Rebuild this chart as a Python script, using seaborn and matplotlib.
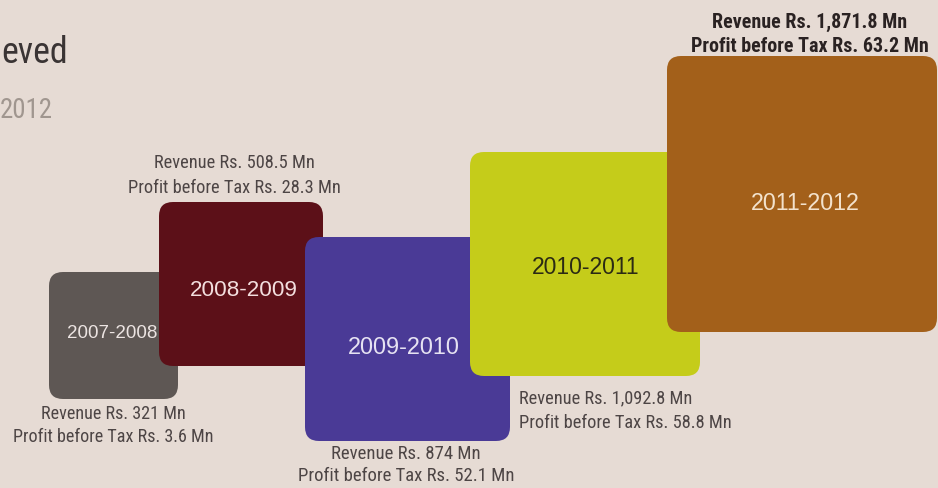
import matplotlib
matplotlib.use("Agg")
import matplotlib.pyplot as plt
from matplotlib import font_manager
from matplotlib.patches import FancyBboxPatch
import pandas as pd
import seaborn as sns

# Financial years and results (Rs. Mn)
periods = ["2007-2008", "2008-2009", "2009-2010", "2010-2011", "2011-2012"]
revenue_mn = [321, 508.5, 874, 1092.8, 1871.8]
pbt_mn = [3.6, 28.3, 52.1, 58.8, 63.2]

# Tile layout in canvas pixels (origin top-left)
box_left = [49, 159, 305, 470, 667]
box_top = [273, 203, 238, 153, 57]
box_w = [129, 164, 205, 230, 270]
box_h = [127, 164, 204, 224, 276]
box_colors = ["#5e5754", "#5c1018", "#4a3a96", "#c5cc1a", "#a3601a"]

year_xy = [(112, 334), (244, 291), (404, 348), (586, 268), (805, 203)]
year_width = [90, 108, 113, 108, 110]
year_color = ["#ece4e2", "#f3dede", "#e6e2f2", "#2b2a14", "#f3e2cc"]

# caption anchor (x, first line y), line gap, alignment, weight,
# and the width of the longer (second) line
cap_xy = [(113, 414), (234, 163), (406, 454), (519, 398), (810, 22)]
cap_gap = [23, 25, 22, 25, 24]
cap_ha = ["center", "center", "center", "left", "center"]
cap_weight = ["normal", "normal", "normal", "normal", "bold"]
cap_width = [201, 213, 217, 213, 238]

df = pd.DataFrame({
    "period": periods,
    "revenue": revenue_mn,
    "pbt": pbt_mn,
    "left": box_left,
    "top": box_top,
    "w": box_w,
    "h": box_h,
    "color": box_colors,
})

sns.set_theme(style="white")
installed = {f.name for f in font_manager.fontManager.ttflist}
cond_name = next((n for n in ["Liberation Sans Narrow", "Roboto Condensed",
                              "Arial Narrow"] if n in installed),
                 "Liberation Sans")
narrow = [cond_name, "DejaVu Sans"]
regular = ["Liberation Sans", "DejaVu Sans"]
plt.rcParams["font.family"] = narrow

bg = "#e6dbd4"
fig = plt.figure(figsize=(9.38, 4.89), dpi=100, facecolor=bg)
ax = fig.add_axes([0, 0, 1, 1])
ax.set_facecolor(bg)
ax.set_xlim(0, 938)
ax.set_ylim(489, 0)
ax.set_axis_off()

to_fit = []  # (text artist(s), target width in px)

# Title fragments on the left
t = ax.text(1, 63, "eved", fontsize=24, color="#3a3434", family=narrow,
            ha="left", va="baseline")
to_fit.append((t, 67))
t = ax.text(0, 118, "2012", fontsize=20, color="#a0968f", family=narrow,
            ha="left", va="baseline")
to_fit.append((t, 53))


def fmt(v):
    return f"{v:,g}"


for i, row in df.iterrows():
    patch = FancyBboxPatch(
        (row["left"], row["top"]), row["w"], row["h"],
        boxstyle="round,pad=0,rounding_size=14",
        facecolor=row["color"], edgecolor="none", zorder=2 + i,
    )
    ax.add_patch(patch)

    yx, yy = year_xy[i]
    t = ax.text(yx, yy, row["period"], fontsize=15, color=year_color[i],
                family=regular, ha="center", va="center", zorder=10)
    to_fit.append((t, year_width[i]))

    cx, cy = cap_xy[i]
    col = "#2a2222" if cap_weight[i] == "bold" else "#4d4545"
    t1 = ax.text(cx, cy, f"Revenue Rs. {fmt(row['revenue'])} Mn",
                 fontsize=12, color=col, fontweight=cap_weight[i],
                 ha=cap_ha[i], va="center", zorder=10)
    t2 = ax.text(cx, cy + cap_gap[i],
                 f"Profit before Tax Rs. {fmt(row['pbt'])} Mn",
                 fontsize=12, color=col, fontweight=cap_weight[i],
                 ha=cap_ha[i], va="center", zorder=10)
    to_fit.append(((t1, t2), cap_width[i]))

# Scale each label so it spans its intended width on the canvas
fig.canvas.draw()
renderer = fig.canvas.get_renderer()
for item, target in to_fit:
    if isinstance(item, tuple):
        ref = item[1]
        w = ref.get_window_extent(renderer).width
        size = ref.get_fontsize() * target / w
        for a in item:
            a.set_fontsize(size)
    else:
        w = item.get_window_extent(renderer).width
        item.set_fontsize(item.get_fontsize() * target / w)

fig.savefig("out.png", dpi=100, facecolor=bg)
